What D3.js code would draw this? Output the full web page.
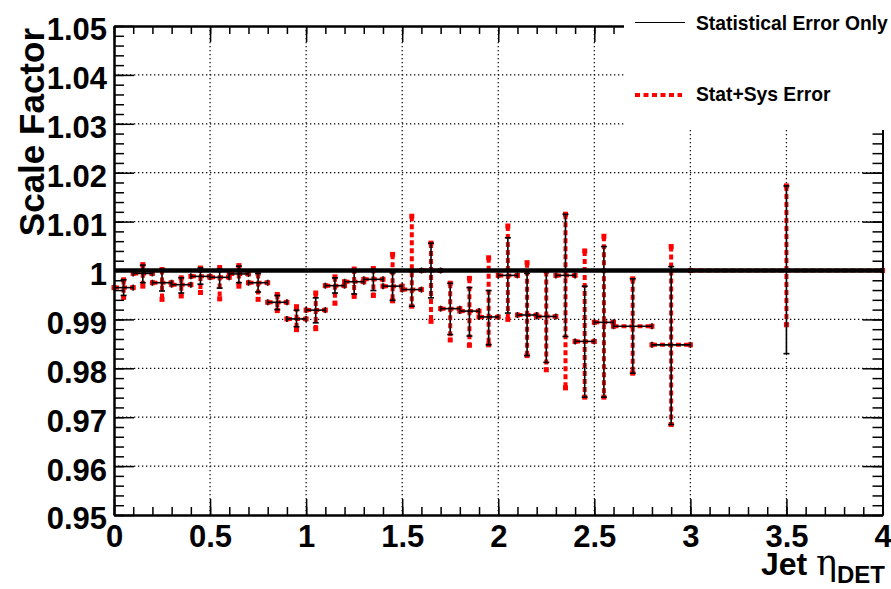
<!DOCTYPE html>
<html>
<head>
<meta charset="utf-8">
<script src="https://cdn.jsdelivr.net/npm/d3@7"></script>
<style>
  body { margin: 0; background: #fff; }
  svg { display: block; }
  .tick text { font-family: "Liberation Sans", Arial, sans-serif; font-weight: bold; }
</style>
</head>
<body>
<div id="chart"></div>
<script>
// bins in jet eta_DET (centre and half width)
const etaCenter = [0.05, 0.15, 0.25, 0.35, 0.45, 0.55, 0.65, 0.75, 0.85, 0.95,
                   1.05, 1.15, 1.25, 1.35, 1.45, 1.55, 1.65, 1.75, 1.85, 1.95,
                   2.05, 2.15, 2.25, 2.35, 2.45, 2.55, 2.7, 2.9, 3.5];
const etaHalf = [0.05, 0.05, 0.05, 0.05, 0.05, 0.05, 0.05, 0.05, 0.05, 0.05,
                 0.05, 0.05, 0.05, 0.05, 0.05, 0.05, 0.05, 0.05, 0.05, 0.05,
                 0.05, 0.05, 0.05, 0.05, 0.05, 0.05, 0.1, 0.1, 0.5];
const scaleFactor = [0.9965, 0.9994, 0.9975, 0.9971, 0.9988, 0.9986, 0.9993, 0.9975, 0.9935, 0.9901,
                     0.9919, 0.9969, 0.9977, 0.9982, 0.9968, 0.9961, 1.0000, 0.9922, 0.9917, 0.9905,
                     0.9990, 0.9909, 0.9906, 0.9990, 0.9855, 0.9894, 0.9886, 0.9848, 1.0000];
// statistical error only
const statUp = [0.0016, 0.0017, 0.0027, 0.0014, 0.0017, 0.0017, 0.0016, 0.0019, 0.0014, 0.0018,
                0.0025, 0.0016, 0.0021, 0.0020, 0.0027, 0.0037, 0.0056, 0.0052, 0.0048, 0.0054,
                0.0077, 0.0085, 0.0092, 0.0125, 0.0113, 0.0155, 0.0097, 0.0160, 0.0173];
const statDown = [0.0016, 0.0019, 0.0017, 0.0017, 0.0016, 0.0022, 0.0018, 0.0019, 0.0015, 0.0016,
                  0.0026, 0.0015, 0.0025, 0.0023, 0.0029, 0.0034, 0.0056, 0.0053, 0.0051, 0.0057,
                  0.0077, 0.0083, 0.0094, 0.0125, 0.0114, 0.0153, 0.0096, 0.0163, 0.0170];
// stat + sys error
const totUp = [0.0016, 0.0018, 0.0027, 0.0014, 0.0017, 0.0020, 0.0017, 0.0019, 0.0016, 0.0025,
               0.0035, 0.0018, 0.0026, 0.0022, 0.0065, 0.0150, 0.0056, 0.0052, 0.0067, 0.0121,
               0.0101, 0.0107, 0.0092, 0.0125, 0.0185, 0.0176, 0.0097, 0.0201, 0.0173];
const totDown = [0.0020, 0.0026, 0.0034, 0.0023, 0.0033, 0.0044, 0.0025, 0.0034, 0.0017, 0.0022,
                 0.0038, 0.0036, 0.0030, 0.0033, 0.0030, 0.0034, 0.0104, 0.0064, 0.0070, 0.0057,
                 0.0090, 0.0083, 0.0109, 0.0230, 0.0114, 0.0153, 0.0096, 0.0163, 0.0111];

const xTicks = [0, 0.5, 1, 1.5, 2, 2.5, 3, 3.5, 4];
const yTicks = [0.95, 0.96, 0.97, 0.98, 0.99, 1, 1.01, 1.02, 1.03, 1.04, 1.05];
const legendLabels = ['Statistical Error Only', 'Stat+Sys Error'];

// Constant
const width = 891;
const height = 589;
const frame = {left: 114, right: 882.5, top: 26, bottom: 515};
const font = '"Liberation Sans", Arial, sans-serif';
const red = '#ff0000';

const xScale = d3.scaleLinear().domain([0, 4]).range([frame.left, frame.right]);
const yScale = d3.scaleLinear().domain([0.95, 1.05]).range([frame.bottom, frame.top]);

const data = etaCenter.map((e, i) => ({
    eta: e, half: etaHalf[i], sf: scaleFactor[i],
    su: statUp[i], sd: statDown[i], tu: totUp[i], td: totDown[i]
}));

const svg = d3.select('#chart').append('svg')
    .attr('width', width)
    .attr('height', height);

// grid
const grid = svg.append('g')
    .attr('stroke', '#000')
    .attr('stroke-width', 1.2)
    .attr('stroke-dasharray', '1.3,2.7');
grid.selectAll('.vgrid')
    .data(xTicks.slice(1, -1))
    .join('line')
        .attr('x1', d => xScale(d))
        .attr('x2', d => xScale(d))
        .attr('y1', frame.top)
        .attr('y2', frame.bottom);
grid.selectAll('.hgrid')
    .data(yTicks.slice(1, -1))
    .join('line')
        .attr('x1', frame.left)
        .attr('x2', frame.right)
        .attr('y1', d => yScale(d))
        .attr('y2', d => yScale(d));

// stat+sys error bars (red, dashed)
const sys = svg.append('g')
    .attr('stroke', red)
    .attr('stroke-width', 4)
    .attr('stroke-dasharray', '5,3');
sys.selectAll('.v')
    .data(data)
    .join('line')
        .attr('x1', d => xScale(d.eta))
        .attr('x2', d => xScale(d.eta))
        .attr('y1', d => yScale(d.sf + d.tu))
        .attr('y2', d => yScale(d.sf - d.td));
sys.selectAll('.h')
    .data(data)
    .join('line')
        .attr('x1', d => xScale(d.eta - d.half))
        .attr('x2', d => xScale(d.eta + d.half))
        .attr('y1', d => yScale(d.sf))
        .attr('y2', d => yScale(d.sf));

const caps = svg.append('g').attr('fill', red);
data.forEach(d => {
    [[d.eta, d.sf + d.tu], [d.eta, d.sf - d.td],
     [d.eta - d.half, d.sf], [d.eta + d.half, d.sf]].forEach(p => {
        caps.append('rect')
            .attr('x', xScale(p[0]) - 2.5)
            .attr('y', yScale(p[1]) - 2.5)
            .attr('width', 5)
            .attr('height', 5);
    });
});

// reference line at 1
svg.append('line')
    .attr('x1', xScale(0))
    .attr('x2', xScale(4))
    .attr('y1', yScale(1))
    .attr('y2', yScale(1))
    .attr('stroke', '#000')
    .attr('stroke-width', 4.5);

// statistical error bars (black)
const stat = svg.append('g')
    .attr('stroke', '#000')
    .attr('stroke-width', 1.6);
data.forEach(d => {
    const cx = xScale(d.eta), cy = yScale(d.sf);
    const yt = yScale(d.sf + d.su), yb = yScale(d.sf - d.sd);
    const xl = xScale(d.eta - d.half), xr = xScale(d.eta + d.half);
    stat.append('line').attr('x1', cx).attr('x2', cx).attr('y1', yt).attr('y2', yb);
    stat.append('line').attr('x1', xl).attr('x2', xr).attr('y1', cy).attr('y2', cy);
    stat.append('line').attr('x1', cx - 3).attr('x2', cx + 3).attr('y1', yt).attr('y2', yt);
    stat.append('line').attr('x1', cx - 3).attr('x2', cx + 3).attr('y1', yb).attr('y2', yb);
    stat.append('line').attr('x1', xl).attr('x2', xl).attr('y1', cy - 3).attr('y2', cy + 3);
    stat.append('line').attr('x1', xr).attr('x2', xr).attr('y1', cy - 3).attr('y2', cy + 3);
});

// axes
const xMinor = d3.range(0, 41).map(i => i / 10);
const yMinor = d3.range(0, 51).map(i => 0.95 + i * 0.002);

const styleAxis = (g, fs) => {
    g.selectAll('.domain').attr('stroke-width', 2);
    g.selectAll('.tick line').attr('stroke-width', 1.5);
    g.selectAll('.tick text').style('font-size', fs).attr('fill', '#000');
};

svg.append('g')
    .attr('transform', `translate(0,${frame.bottom})`)
    .call(d3.axisBottom(xScale).tickValues(xMinor).tickFormat('').tickSizeInner(-8).tickSizeOuter(0))
    .call(g => styleAxis(g, '31px'));
svg.append('g')
    .attr('transform', `translate(0,${frame.bottom})`)
    .call(d3.axisBottom(xScale).tickValues(xTicks).tickFormat(d3.format('')).tickSizeInner(-16).tickSizeOuter(0).tickPadding(10))
    .call(g => styleAxis(g, '31px'))
    .call(g => g.selectAll('.tick text').attr('dy', '0.71em'));

svg.append('g')
    .attr('transform', `translate(0,${frame.top})`)
    .call(d3.axisTop(xScale).tickValues(xMinor).tickFormat('').tickSizeInner(-8).tickSizeOuter(0))
    .call(g => styleAxis(g, '31px'));
svg.append('g')
    .attr('transform', `translate(0,${frame.top})`)
    .call(d3.axisTop(xScale).tickValues(xTicks).tickFormat('').tickSizeInner(-16).tickSizeOuter(0))
    .call(g => styleAxis(g, '31px'));

svg.append('g')
    .attr('transform', `translate(${frame.left},0)`)
    .call(d3.axisLeft(yScale).tickValues(yMinor).tickFormat('').tickSizeInner(-10).tickSizeOuter(0))
    .call(g => styleAxis(g, '31px'));
svg.append('g')
    .attr('transform', `translate(${frame.left},0)`)
    .call(d3.axisLeft(yScale).tickValues(yTicks).tickFormat(d3.format('')).tickSizeInner(-20).tickSizeOuter(0).tickPadding(7))
    .call(g => styleAxis(g, '31px'))
    .call(g => g.selectAll('.tick text').attr('dy', '0.45em'));

svg.append('g')
    .attr('transform', `translate(${frame.right},0)`)
    .call(d3.axisRight(yScale).tickValues(yMinor).tickFormat('').tickSizeInner(-10).tickSizeOuter(0))
    .call(g => styleAxis(g, '31px'));
svg.append('g')
    .attr('transform', `translate(${frame.right},0)`)
    .call(d3.axisRight(yScale).tickValues(yTicks).tickFormat('').tickSizeInner(-20).tickSizeOuter(0))
    .call(g => styleAxis(g, '31px'));

// legend
svg.append('rect')
    .attr('x', 624)
    .attr('y', 0)
    .attr('width', width - 624)
    .attr('height', 130)
    .attr('fill', '#fff');

svg.append('line')
    .attr('x1', 635).attr('x2', 685)
    .attr('y1', 22.5).attr('y2', 22.5)
    .attr('stroke', '#000')
    .attr('stroke-width', 1.2);
svg.append('line')
    .attr('x1', 635).attr('x2', 682)
    .attr('y1', 95).attr('y2', 95)
    .attr('stroke', red)
    .attr('stroke-width', 4)
    .attr('stroke-dasharray', '5,3.5');

svg.selectAll('.legendText')
    .data(legendLabels)
    .join('text')
        .attr('x', 696)
        .attr('y', (d, i) => i === 0 ? 30 : 101)
        .style('font-family', font)
        .style('font-weight', 'bold')
        .style('font-size', '19.3px')
        .attr('fill', '#000')
        .text(d => d);

// axis titles
svg.append('text')
    .attr('transform', 'translate(44,28) rotate(-90)')
    .attr('text-anchor', 'end')
    .style('font-family', font)
    .style('font-weight', 'bold')
    .style('font-size', '35px')
    .attr('fill', '#000')
    .text('Scale Factor');

const xTitle = svg.append('text')
    .attr('x', 885)
    .attr('y', 575)
    .attr('text-anchor', 'end')
    .style('font-family', font)
    .style('font-weight', 'bold')
    .style('font-size', '32px')
    .attr('fill', '#000');
xTitle.append('tspan').text('Jet ');
xTitle.append('tspan')
    .style('font-family', '"DejaVu Serif", "Liberation Serif", serif')
    .style('font-weight', 'normal')
    .style('font-size', '35px')
    .text('η');
xTitle.append('tspan')
    .attr('dy', 8)
    .style('font-size', '24px')
    .text('DET');
</script>
</body>
</html>
